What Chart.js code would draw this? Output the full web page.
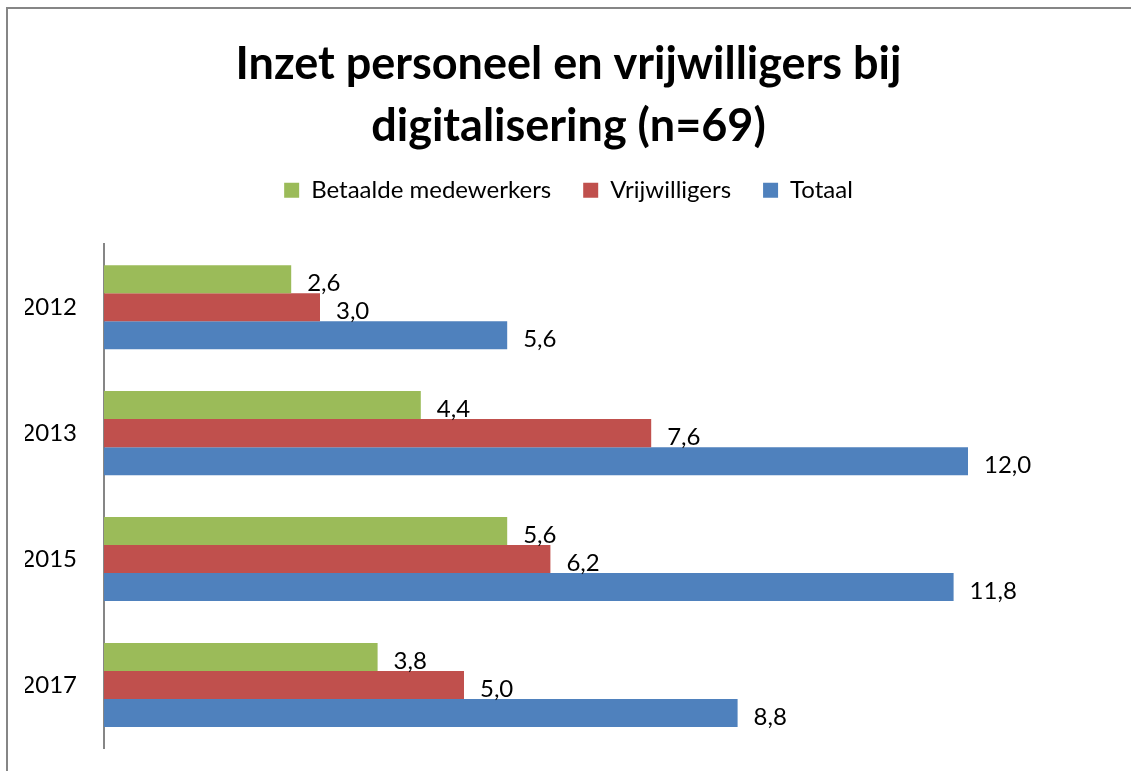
<!DOCTYPE html>
<html>
<head>
<meta charset="utf-8">
<script src="https://cdn.jsdelivr.net/npm/chart.js@4/dist/chart.umd.min.js"></script>
<style>
  body { margin: 0; background: #fff; }
  #wrap { position: relative; width: 1131px; height: 771px; }
  #frame { position: absolute; left: 6px; top: 7px; width: 1200px; height: 800px;
           border-left: 2px solid #868686; border-top: 2px solid #868686; }
  canvas { position: absolute; left: 0; top: 0; }
</style>
</head>
<body>
<div id="wrap">
  <div id="frame"></div>
  <canvas id="bar-Chart" width="1131" height="771"></canvas>
</div>
<script>
var jaren = ['2012', '2013', '2015', '2017'];
var betaald = [2.6, 4.4, 5.6, 3.8];
var vrijwilligers = [3.0, 7.6, 6.2, 5.0];
var totaal = [5.6, 12.0, 11.8, 8.8];
var assenMax = 14;

// labels naast de balken, met komma
var waardeLabels = {
    id: 'waardeLabels',
    afterDatasetsDraw: function (chart) {
        var ctx = chart.ctx;
        ctx.save();
        ctx.font = '24px Lato, "Open Sans", sans-serif';
        ctx.fillStyle = '#000';
        ctx.textAlign = 'left';
        ctx.textBaseline = 'middle';
        chart.data.datasets.forEach(function (ds, i) {
            chart.getDatasetMeta(i).data.forEach(function (bar, j) {
                var txt = ds.data[j].toFixed(1).replace('.', ',');
                ctx.fillText(txt, bar.x + 16, bar.y + 4);
            });
        });
        ctx.restore();
    }
};

// extra ruimte onder de legenda
var legendaRuimte = {
    id: 'legendaRuimte',
    beforeInit: function (chart) {
        var fit = chart.legend.fit;
        chart.legend.fit = function () {
            fit.call(this);
            this.height += 32;
        };
    }
};

var ctx = document.getElementById('bar-Chart');
var chart = new Chart(ctx, {
    type: 'bar',
    data: {
        labels: jaren,
        datasets: [{
            label: 'Betaalde medewerkers',
            backgroundColor: '#9BBB59',
            data: betaald
        }, {
            label: 'Vrijwilligers',
            backgroundColor: '#C0504D',
            data: vrijwilligers
        }, {
            label: 'Totaal',
            backgroundColor: '#4F81BD',
            data: totaal
        }]
    },
    options: {
        indexAxis: 'y',
        responsive: false,
        animation: false,
        datasets: { bar: { categoryPercentage: 0.667, barPercentage: 1.0 } },
        layout: { padding: { top: 10, left: 25, right: 19, bottom: 23 } },
        scales: {
            x: { display: false, min: 0, max: assenMax },
            y: {
                grid: { display: false, drawTicks: false },
                border: { display: true, color: '#868686', width: 2 },
                ticks: { color: '#000', padding: 27, font: { family: 'Lato, "Open Sans", sans-serif', size: 24 } },
                afterFit: function (scale) {
                    scale.width = 79;
                    scale.paddingTop = 0;
                    scale.paddingBottom = 0;
                }
            }
        },
        plugins: {
            tooltip: { enabled: false },
            title: {
                display: true,
                text: ['Inzet personeel en vrijwilligers bij', 'digitalisering (n=69)'],
                color: '#000',
                font: { family: 'Lato, "Open Sans", sans-serif', size: 45, weight: 'bold', lineHeight: 1.38 },
                padding: { top: 23, bottom: -11 }
            },
            legend: {
                position: 'top',
                labels: {
                    color: '#000',
                    boxWidth: 15,
                    boxHeight: 15,
                    padding: 32,
                    font: { family: 'Lato, "Open Sans", sans-serif', size: 24 }
                }
            }
        }
    },
    plugins: [waardeLabels, legendaRuimte]
});
</script>
</body>
</html>
